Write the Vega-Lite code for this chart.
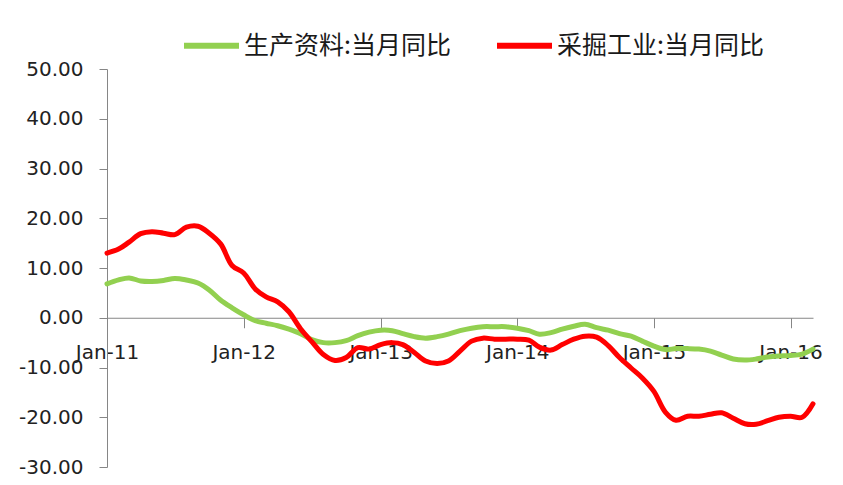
{
  "$schema": "https://vega.github.io/schema/vega-lite/v6.json",
  "width": 706,
  "height": 398,
  "autosize": {"type": "none"},
  "padding": {"left": 107, "top": 69, "right": 30, "bottom": 18},
  "background": "white",
  "config": {"view": {"stroke": null}, "font": "DejaVu Sans"},
  "data": {
    "values": [
      {"date": "2011-01-01", "生产资料:当月同比": 6.8, "采掘工业:当月同比": 13.0},
      {"date": "2011-02-01", "生产资料:当月同比": 7.6, "采掘工业:当月同比": 13.8},
      {"date": "2011-03-01", "生产资料:当月同比": 8.0, "采掘工业:当月同比": 15.2},
      {"date": "2011-04-01", "生产资料:当月同比": 7.4, "采掘工业:当月同比": 16.9},
      {"date": "2011-05-01", "生产资料:当月同比": 7.3, "采掘工业:当月同比": 17.3},
      {"date": "2011-06-01", "生产资料:当月同比": 7.5, "采掘工业:当月同比": 17.0},
      {"date": "2011-07-01", "生产资料:当月同比": 7.9, "采掘工业:当月同比": 16.7},
      {"date": "2011-08-01", "生产资料:当月同比": 7.6, "采掘工业:当月同比": 18.2},
      {"date": "2011-09-01", "生产资料:当月同比": 7.0, "采掘工业:当月同比": 18.4},
      {"date": "2011-10-01", "生产资料:当月同比": 5.6, "采掘工业:当月同比": 17.0},
      {"date": "2011-11-01", "生产资料:当月同比": 3.5, "采掘工业:当月同比": 14.8},
      {"date": "2011-12-01", "生产资料:当月同比": 2.0, "采掘工业:当月同比": 10.5},
      {"date": "2012-01-01", "生产资料:当月同比": 0.6, "采掘工业:当月同比": 9.0},
      {"date": "2012-02-01", "生产资料:当月同比": -0.6, "采掘工业:当月同比": 5.8},
      {"date": "2012-03-01", "生产资料:当月同比": -1.1, "采掘工业:当月同比": 4.2},
      {"date": "2012-04-01", "生产资料:当月同比": -1.6, "采掘工业:当月同比": 3.2},
      {"date": "2012-05-01", "生产资料:当月同比": -2.3, "采掘工业:当月同比": 1.2},
      {"date": "2012-06-01", "生产资料:当月同比": -3.2, "采掘工业:当月同比": -2.2},
      {"date": "2012-07-01", "生产资料:当月同比": -4.4, "采掘工业:当月同比": -4.8},
      {"date": "2012-08-01", "生产资料:当月同比": -5.0, "采掘工业:当月同比": -7.4},
      {"date": "2012-09-01", "生产资料:当月同比": -5.0, "采掘工业:当月同比": -8.6},
      {"date": "2012-10-01", "生产资料:当月同比": -4.6, "采掘工业:当月同比": -8.0},
      {"date": "2012-11-01", "生产资料:当月同比": -3.6, "采掘工业:当月同比": -6.0},
      {"date": "2012-12-01", "生产资料:当月同比": -2.9, "采掘工业:当月同比": -6.3},
      {"date": "2013-01-01", "生产资料:当月同比": -2.5, "采掘工业:当月同比": -5.4},
      {"date": "2013-02-01", "生产资料:当月同比": -2.6, "采掘工业:当月同比": -5.0},
      {"date": "2013-03-01", "生产资料:当月同比": -3.2, "采掘工业:当月同比": -5.4},
      {"date": "2013-04-01", "生产资料:当月同比": -3.8, "采掘工业:当月同比": -7.0},
      {"date": "2013-05-01", "生产资料:当月同比": -4.1, "采掘工业:当月同比": -8.7},
      {"date": "2013-06-01", "生产资料:当月同比": -3.8, "采掘工业:当月同比": -9.2},
      {"date": "2013-07-01", "生产资料:当月同比": -3.3, "采掘工业:当月同比": -8.7},
      {"date": "2013-08-01", "生产资料:当月同比": -2.6, "采掘工业:当月同比": -6.7},
      {"date": "2013-09-01", "生产资料:当月同比": -2.1, "采掘工业:当月同比": -4.7},
      {"date": "2013-10-01", "生产资料:当月同比": -1.8, "采掘工业:当月同比": -4.1},
      {"date": "2013-11-01", "生产资料:当月同比": -1.8, "采掘工业:当月同比": -4.3},
      {"date": "2013-12-01", "生产资料:当月同比": -1.8, "采掘工业:当月同比": -4.3},
      {"date": "2014-01-01", "生产资料:当月同比": -2.1, "采掘工业:当月同比": -4.3},
      {"date": "2014-02-01", "生产资料:当月同比": -2.6, "采掘工业:当月同比": -4.5},
      {"date": "2014-03-01", "生产资料:当月同比": -3.3, "采掘工业:当月同比": -5.9},
      {"date": "2014-04-01", "生产资料:当月同比": -3.0, "采掘工业:当月同比": -6.5},
      {"date": "2014-05-01", "生产资料:当月同比": -2.3, "采掘工业:当月同比": -5.4},
      {"date": "2014-06-01", "生产资料:当月同比": -1.7, "采掘工业:当月同比": -4.3},
      {"date": "2014-07-01", "生产资料:当月同比": -1.3, "采掘工业:当月同比": -3.7},
      {"date": "2014-08-01", "生产资料:当月同比": -2.0, "采掘工业:当月同比": -3.9},
      {"date": "2014-09-01", "生产资料:当月同比": -2.5, "采掘工业:当月同比": -5.6},
      {"date": "2014-10-01", "生产资料:当月同比": -3.2, "采掘工业:当月同比": -8.0},
      {"date": "2014-11-01", "生产资料:当月同比": -3.7, "采掘工业:当月同比": -10.1},
      {"date": "2014-12-01", "生产资料:当月同比": -4.7, "采掘工业:当月同比": -12.1},
      {"date": "2015-01-01", "生产资料:当月同比": -5.7, "采掘工业:当月同比": -14.8},
      {"date": "2015-02-01", "生产资料:当月同比": -6.4, "采掘工业:当月同比": -19.0},
      {"date": "2015-03-01", "生产资料:当月同比": -6.2, "采掘工业:当月同比": -20.6},
      {"date": "2015-04-01", "生产资料:当月同比": -6.2, "采掘工业:当月同比": -19.8},
      {"date": "2015-05-01", "生产资料:当月同比": -6.3, "采掘工业:当月同比": -19.8},
      {"date": "2015-06-01", "生产资料:当月同比": -6.7, "采掘工业:当月同比": -19.4},
      {"date": "2015-07-01", "生产资料:当月同比": -7.5, "采掘工业:当月同比": -19.1},
      {"date": "2015-08-01", "生产资料:当月同比": -8.3, "采掘工业:当月同比": -20.2},
      {"date": "2015-09-01", "生产资料:当月同比": -8.5, "采掘工业:当月同比": -21.3},
      {"date": "2015-10-01", "生产资料:当月同比": -8.3, "采掘工业:当月同比": -21.4},
      {"date": "2015-11-01", "生产资料:当月同比": -7.9, "采掘工业:当月同比": -20.7},
      {"date": "2015-12-01", "生产资料:当月同比": -7.7, "采掘工业:当月同比": -20.0},
      {"date": "2016-01-01", "生产资料:当月同比": -7.6, "采掘工业:当月同比": -19.8},
      {"date": "2016-02-01", "生产资料:当月同比": -7.3, "采掘工业:当月同比": -20.0},
      {"date": "2016-03-01", "生产资料:当月同比": -6.3, "采掘工业:当月同比": -17.3}
    ]
  },
  "transform": [
    {"fold": ["生产资料:当月同比", "采掘工业:当月同比"], "as": ["series", "value"]}
  ],
  "mark": {"type": "line", "strokeWidth": 5, "interpolate": "catmull-rom", "strokeCap": "round", "strokeJoin": "round"},
  "encoding": {
    "x": {
      "field": "date",
      "type": "temporal",
      "scale": {
        "type": "utc",
        "domain": [
          {"year": 2011, "month": 1, "date": 1, "utc": true},
          {"year": 2016, "month": 3, "date": 1, "utc": true}
        ]
      },
      "axis": {
        "orient": "bottom",
        "offset": -149.25,
        "tickCount": "year",
        "format": "%b-%y",
        "title": null,
        "grid": false,
        "domainColor": "#868686",
        "tickColor": "#868686",
        "tickSize": 10,
        "labelPadding": 15,
        "labelFontSize": 20,
        "labelFont": "DejaVu Sans",
        "labelColor": "#222222",
        "labelFlush": false,
        "labelOverlap": false
      }
    },
    "y": {
      "field": "value",
      "type": "quantitative",
      "scale": {"domain": [-30, 50], "nice": false, "zero": false},
      "axis": {
        "values": [-30, -20, -10, 0, 10, 20, 30, 40, 50],
        "labelExpr": "replace(format(datum.value, '.2f'), '−', '-')",
        "title": null,
        "grid": false,
        "domainColor": "#868686",
        "tickColor": "#868686",
        "tickSize": 8,
        "labelPadding": 16,
        "labelFontSize": 20,
        "labelFont": "DejaVu Sans",
        "labelColor": "#222222"
      }
    },
    "color": {
      "field": "series",
      "type": "nominal",
      "scale": {
        "domain": ["生产资料:当月同比", "采掘工业:当月同比"],
        "range": ["#92D050", "#FF0000"]
      },
      "legend": {
        "orient": "none",
        "legendX": 74,
        "legendY": -54,
        "direction": "horizontal",
        "title": null,
        "symbolType": "stroke",
        "symbolSize": 3025,
        "symbolStrokeWidth": 6,
        "labelFontSize": 25,
        "labelFont": "Noto Sans CJK SC",
        "labelColor": "#1a1a1a",
        "labelOffset": 2,
        "columnPadding": 34,
        "padding": 0,
        "labelLimit": 400
      }
    }
  }
}
